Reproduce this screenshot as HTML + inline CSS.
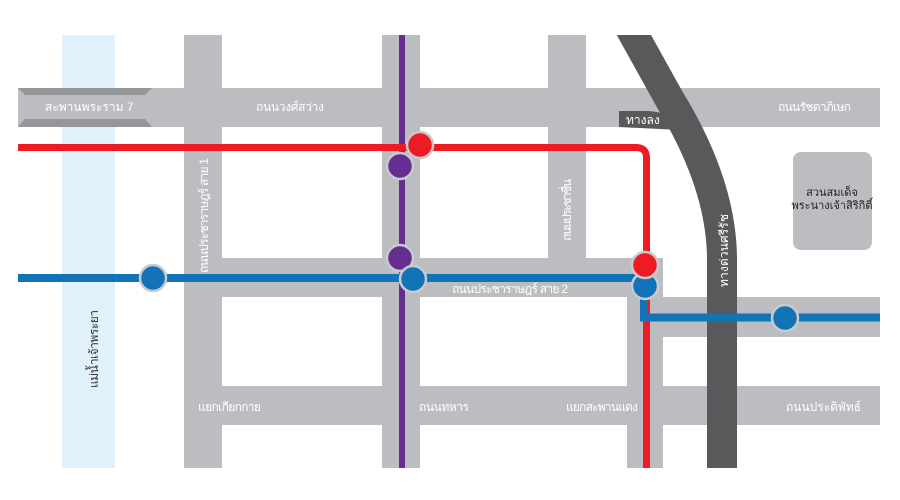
<!DOCTYPE html>
<html><head><meta charset="utf-8"><style>
html,body{margin:0;padding:0;background:#fff;}
svg{display:block}
text{font-family:"Liberation Sans","Noto Sans CJK SC",sans-serif;fill:#fff;font-size:12px}
</style></head><body>
<svg width="900" height="500" viewBox="0 0 900 500" xmlns="http://www.w3.org/2000/svg">
<rect width="900" height="500" fill="#fff"/>
<rect x="62" y="35" width="53" height="433" fill="#e0f1fb"/>
<g fill="#bcbdc0">
<rect x="18" y="88" width="862" height="39"/>
<rect x="184" y="35" width="38" height="433"/>
<rect x="382" y="35" width="38" height="433"/>
<rect x="548" y="35" width="38" height="230"/>
<rect x="184" y="258" width="479" height="39"/>
<rect x="627" y="258" width="36" height="210"/>
<rect x="627" y="297" width="253" height="40"/>
<rect x="184" y="386" width="696" height="39"/>
<rect x="793" y="152" width="79" height="98" rx="8"/>
</g>
<polygon points="18,88 152,88 145,95 25,95" fill="#959699"/>
<polygon points="25,119 145,119 152,127 18,127" fill="#959699"/>
<path d="M620,10 L670,100 Q722,185 722,260 L722,468" stroke="#58595b" stroke-width="30" fill="none"/>
<path d="M619,111 L648,111 Q670,112 680,125 L680,130 L619,127 Z" fill="#58595b"/>
<rect x="0" y="0" width="900" height="35" fill="#fff"/>
<rect x="399" y="35" width="6" height="433" fill="#662d91"/>
<path d="M18,147.5 L636,147.5 Q646.5,147.5 646.5,158 L646.5,468" stroke="#ed1c24" stroke-width="7" fill="none"/>
<path d="M18,278 L644,278 L644,317.5 L880,317.5" stroke="#1273b9" stroke-width="8" fill="none"/>
<g stroke="#c9cacc" stroke-width="2.5">
<circle cx="153" cy="278" r="13" fill="#1273b9"/>
<circle cx="400" cy="166" r="13" fill="#662d91"/>
<circle cx="420" cy="145" r="13" fill="#ed1c24"/>
<circle cx="400" cy="258" r="13" fill="#662d91"/>
<circle cx="413" cy="279" r="13" fill="#1273b9"/>
<circle cx="645" cy="286" r="13" fill="#1273b9"/>
<circle cx="645" cy="265" r="13" fill="#ed1c24"/>
<circle cx="785" cy="318" r="13" fill="#1273b9"/>
</g>
<text x="45" y="111">สะพานพระราม 7</text>
<text x="256" y="111" textLength="68">ถนนวงศ์สว่าง</text>
<text x="778" y="111" textLength="73">ถนนรัชดาภิเษก</text>
<text x="626" y="124" font-size="10">ทางลง</text>
<text x="832" y="196" text-anchor="middle" style="fill:#222;font-size:11px">สวนสมเด็จ</text>
<text x="832" y="209" text-anchor="middle" style="fill:#222;font-size:11px">พระนางเจ้าสิริกิติ์</text>
<text transform="translate(208,273) rotate(-90)" textLength="115">ถนนประชาราษฎร์ สาย 1</text>
<text transform="translate(571,241) rotate(-90)" textLength="62">ถนนประชาชื่น</text>
<text transform="translate(728,287) rotate(-90)" textLength="73">ทางด่วนศรีรัช</text>
<text transform="translate(98,388) rotate(-90)" style="fill:#333" textLength="78">แม่น้ำเจ้าพระยา</text>
<text x="452" y="293" textLength="116">ถนนประชาราษฎร์ สาย 2</text>
<text x="198" y="411" textLength="63">แยกเกียกกาย</text>
<text x="419" y="411" textLength="50">ถนนทหาร</text>
<text x="566" y="411" textLength="72">แยกสะพานแดง</text>
<text x="786" y="411">ถนนประดิพัทธ์</text>
</svg>
</body></html>
